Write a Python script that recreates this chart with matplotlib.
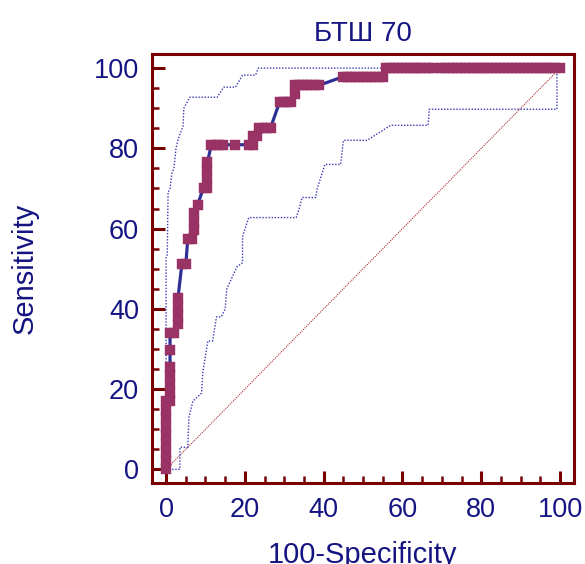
import matplotlib
matplotlib.use("Agg")
import matplotlib.pyplot as plt
from matplotlib.ticker import MultipleLocator

plt.rcParams['font.family'] = ['Liberation Sans', 'DejaVu Sans']

# ROC operating points (100-Specificity, Sensitivity)
roc_x = [0, 0, 0, 0, 0, 0, 0, 0, 0,
         1, 1, 1, 1, 1,
         1,
         1, 2,
         3, 3, 3, 3,
         4, 5,
         5.5, 6.5,
         7, 7, 7,
         8,
         9.5, 10.5,
         10.5, 10.5, 10.5,
         11.5, 12.5, 13.5, 14.5,
         17.5,
         21, 22,
         22, 23,
         23.5, 24.5, 25.5, 26.5,
         28.8, 29.8, 30.8, 31.8,
         32.8, 32.8, 33.8, 34.8, 35.8, 36.8, 37.8, 38.8,
         45, 46, 47, 48, 49, 50, 51, 52, 53, 54, 55,
         55.8, 56.8, 57.8, 58.8, 59.8, 60.8, 61.8, 62.8, 63.8, 64.8, 65.8, 66.8, 67.8,
         69.8, 70.8, 71.8, 72.8, 73.8, 74.8, 75.8, 76.8, 77.8, 78.8, 79.8, 80.8,
         81.8, 82.8, 83.8, 84.8, 85.8, 86.8, 87.8, 88.8, 89.8, 90.8, 91.8, 92.8,
         93.8, 94.8, 95.8, 96.8, 97.8, 98.8, 100]
roc_y = [0, 2.1, 4.3, 6.4, 8.5, 10.6, 12.8, 14.9, 17.0,
         17.0, 19.1, 21.3, 23.4, 25.5,
         29.8,
         34.0, 34.0,
         36.2, 38.3, 40.4, 42.6,
         51.1, 51.1,
         57.4, 57.4,
         59.6, 61.7, 63.8,
         66.0,
         70.2, 70.2,
         72.3, 74.5, 76.6,
         80.9, 80.9, 80.9, 80.9,
         80.9,
         80.9, 80.9,
         83.0, 83.0,
         85.1, 85.1, 85.1, 85.1,
         91.5, 91.5, 91.5, 91.5,
         93.6, 95.7, 95.7, 95.7, 95.7, 95.7, 95.7, 95.7,
         97.9, 97.9, 97.9, 97.9, 97.9, 97.9, 97.9, 97.9, 97.9, 97.9, 97.9,
         100, 100, 100, 100, 100, 100, 100, 100, 100, 100, 100, 100, 100,
         100, 100, 100, 100, 100, 100, 100, 100, 100, 100, 100, 100,
         100, 100, 100, 100, 100, 100, 100, 100, 100, 100, 100, 100,
         100, 100, 100, 100, 100, 100, 100]

# 95% confidence bounds
upper_x = [0, 0, 0.3, 0.5, 1, 1.5, 2, 2.5, 3, 3.5, 4.3, 4.5, 6, 13, 14.6, 17.6, 19.4, 22.7, 23.4, 100]
upper_y = [0, 53, 53.5, 69, 70, 74, 75, 80, 82, 83.5, 85.5, 90, 92.75, 92.75, 95.25, 95.25, 98.25, 98.25, 100, 100]
lower_x = [0, 3.5, 3.5, 5.5, 5.8, 6.8, 9, 9.3, 10.6, 11.8, 12.8, 14, 15, 15.4, 18, 19.4, 19.4, 20.7,
           21, 33, 33.8, 34.5, 38, 38.3, 40.3, 44.3, 45, 51, 57, 66.5, 66.8, 99.2, 99.2, 100]
lower_y = [0, 0, 5.5, 5.5, 13, 17, 19, 24, 32, 32, 38, 38, 40, 45, 50.5, 51.5, 58, 62,
           62.75, 62.75, 65, 67.75, 67.75, 69.75, 76, 76, 82, 82, 85.75, 85.75, 89.75, 89.75, 99.25, 100]

diag = [0, 100]

frame = '#780000'
navy = '#141482'

fig = plt.figure(figsize=(5.85, 5.64), dpi=100)
ax = fig.add_axes([0.259, 0.1436, 0.722, 0.7598])

ax.plot(diag, diag, color='#b03030', lw=0.8, ls=(0, (1, 1)))
ax.plot(upper_x, upper_y, color='#3a3ab4', lw=1.0, ls=(0, (1, 1.2)))
ax.plot(lower_x, lower_y, color='#3a3ab4', lw=1.0, ls=(0, (1, 1.2)))
ax.plot(roc_x, roc_y, color='#2e3096', lw=2.3, zorder=3)
ax.plot(roc_x, roc_y, ls='none', marker='s', ms=7.3, color='#993366', mec='#993366', mew=0.3, zorder=4)

ax.set_xlim(-3.7, 103.5)
ax.set_ylim(-3.4, 103.4)
ax.xaxis.set_major_locator(MultipleLocator(20))
ax.xaxis.set_minor_locator(MultipleLocator(5))
ax.yaxis.set_major_locator(MultipleLocator(20))
ax.yaxis.set_minor_locator(MultipleLocator(5))

for s in ax.spines.values():
    s.set_color(frame)
    s.set_linewidth(2.2)

ax.tick_params(which='both', direction='in', color=frame, top=False, right=False)
ax.tick_params(which='major', length=9, width=2.2, labelsize=19.5, labelcolor=navy, pad=10)
ax.tick_params(which='minor', length=5, width=1.8)
ax.tick_params(axis='y', which='major', pad=9)

ax.set_title('БТШ 70', fontsize=20, color=navy, pad=10)
ax.set_xlabel('100-Specificity', fontsize=21, color=navy, labelpad=13)
ax.set_ylabel('Sensitivity', fontsize=21, color=navy, labelpad=40)

fig.savefig('out.png', dpi=100)
